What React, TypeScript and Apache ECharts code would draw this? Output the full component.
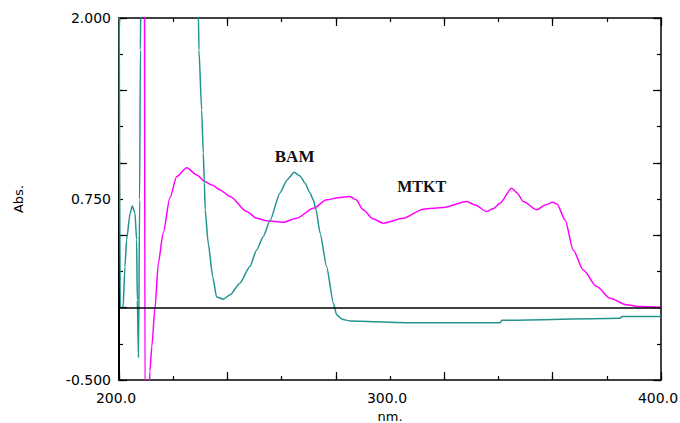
import React, { useEffect, useRef } from "react";
import * as echarts from "echarts";

// BAM spectrum (teal)
const bamX = [200.0, 200.45, 201.5, 202.2, 202.8, 204.1, 204.9, 205.9, 206.5, 206.75, 207.2, 207.6, 207.9, 208.1, 218.8, 229.3, 229.5, 230.5, 231.1, 231.5, 231.8, 232.9, 234.6, 236.0, 238.5, 241.0, 244.6, 248.3, 250.8, 253.2, 255.7, 259.4, 262.0, 264.7, 266.8, 268.6, 270.5, 271.7, 272.7, 274.2, 276.6, 279.1, 280.3, 282.3, 285.2, 306.2, 340.6, 341.3, 384.9, 385.6, 400.0];
const bamY = [2.5, 0.0, 0.0, 0.283, 0.468, 0.652, 0.702, 0.652, 0.468, 0.053, -0.347, 0.744, 1.78, 2.3, 3.0, 2.02, 1.78, 1.365, 1.068, 0.861, 0.675, 0.447, 0.212, 0.074, 0.058, 0.088, 0.169, 0.283, 0.398, 0.49, 0.599, 0.792, 0.882, 0.935, 0.909, 0.861, 0.792, 0.744, 0.675, 0.516, 0.283, 0.032, -0.05, -0.081, -0.092, -0.104, -0.104, -0.088, -0.073, -0.062, -0.062];

// MTKT spectrum (magenta)
const mtktX = [209.4, 209.6, 210.9, 211.4, 212.1, 213.3, 214.5, 216.3, 218.8, 221.3, 225.0, 228.7, 231.7, 234.3, 237.3, 241.0, 247.1, 250.8, 254.5, 260.6, 265.6, 271.7, 276.6, 281.5, 285.2, 287.5, 290.1, 293.7, 297.5, 304.9, 312.3, 319.7, 328.3, 331.4, 335.7, 338.0, 340.6, 344.9, 346.9, 349.2, 354.2, 357.2, 360.1, 361.6, 364.6, 367.6, 371.3, 376.3, 381.2, 387.3, 392.3, 400.0];
const mtktY = [2.5, -0.8, -0.7, -0.44, -0.269, 0.0, 0.307, 0.516, 0.758, 0.905, 0.965, 0.916, 0.87, 0.847, 0.813, 0.767, 0.663, 0.617, 0.599, 0.59, 0.617, 0.686, 0.744, 0.761, 0.767, 0.744, 0.675, 0.613, 0.583, 0.617, 0.68, 0.691, 0.732, 0.709, 0.663, 0.682, 0.721, 0.825, 0.792, 0.732, 0.675, 0.709, 0.727, 0.716, 0.606, 0.398, 0.26, 0.145, 0.065, 0.019, 0.007, 0.0];

const xTickLabels = ["200.0", "300.0", "400.0"];
const yTickLabels = ["-0.500", "0.750", "2.000"];
const annotations = [
  { text: "BAM", x: 264.8, y: 1.044, size: 17 },
  { text: "MTKT", x: 311.7, y: 0.834, size: 16 },
];

const X_MIN = 200, X_MAX = 400, Y_MIN = -0.5, Y_MAX = 2.0;
const FONT = "DejaVu Sans";

export default function App() {
  const ref = useRef<HTMLDivElement>(null);
  useEffect(() => {
    const chart = echarts.init(ref.current!, null, { renderer: "svg" });
    const black = "#000";
    const noLabel = { show: false };
    const noSplit = { show: false };
    const frameLine = { show: true, onZero: false, lineStyle: { color: black, width: 1.5 } };
    const hiddenLine = { show: false, onZero: false };
    const tick = (len: number) => ({ show: true, inside: true, length: len, lineStyle: { color: black, width: 1.2 } });

    const xBase = { type: "value", min: X_MIN, max: X_MAX, splitLine: noSplit };
    const yBase = { type: "value", min: Y_MIN, max: Y_MAX, splitLine: noSplit };

    chart.setOption({
      animation: false,
      backgroundColor: "#fff",
      grid: { left: 119, right: 19, top: 18, bottom: 43, outerBoundsMode: "none", containLabel: false },
      xAxis: [
        {
          ...xBase, position: "bottom", interval: 20,
          axisLine: frameLine, axisTick: tick(4),
          axisLabel: {
            color: black, fontSize: 14, fontFamily: FONT, margin: 11,
            showMinLabel: true, showMaxLabel: true, padding: [0, 6, 0, 0],
            formatter: (v: number) => { const s = v.toFixed(1); return xTickLabels.includes(s) ? s : ""; },
          },
          name: "nm.", nameLocation: "middle", nameGap: 26,
          nameTextStyle: { color: black, fontSize: 13, fontFamily: FONT },
        },
        { ...xBase, position: "bottom", interval: 40, axisLine: hiddenLine, axisTick: tick(8), axisLabel: noLabel },
        { ...xBase, position: "top", interval: 20, axisLine: frameLine, axisTick: tick(4), axisLabel: noLabel },
        { ...xBase, position: "top", interval: 40, axisLine: hiddenLine, axisTick: tick(8), axisLabel: noLabel },
      ],
      yAxis: [
        {
          ...yBase, position: "left", interval: 0.25,
          axisLine: { show: true, onZero: false, lineStyle: { color: black, width: 2 } }, axisTick: tick(4),
          axisLabel: {
            color: black, fontSize: 14, fontFamily: FONT, margin: 8,
            showMinLabel: true, showMaxLabel: true,
            formatter: (v: number) => { const s = v.toFixed(3); return yTickLabels.includes(s) ? s : ""; },
          },
          name: "Abs.", nameLocation: "middle", nameGap: 94, nameRotate: 90,
          nameTextStyle: { color: black, fontSize: 13, fontFamily: FONT },
        },
        { ...yBase, position: "left", interval: 0.5, axisLine: hiddenLine, axisTick: tick(8), axisLabel: noLabel },
        { ...yBase, position: "right", interval: 0.25, axisLine: frameLine, axisTick: tick(4), axisLabel: noLabel },
        { ...yBase, position: "right", interval: 0.5, axisLine: hiddenLine, axisTick: tick(8), axisLabel: noLabel },
      ],
      series: [
        {
          name: "MTKT", type: "line", xAxisIndex: 0, yAxisIndex: 0,
          data: mtktX.map((x, i) => [x, mtktY[i]]),
          showSymbol: false, symbol: "none", clip: true,
          smooth: 0.25, smoothMonotone: "x",
          lineStyle: { color: "#ff00ff", width: 1.5 },
          z: 2,
        },
        {
          name: "BAM", type: "line", xAxisIndex: 0, yAxisIndex: 0,
          data: bamX.map((x, i) => [x, bamY[i]]),
          showSymbol: false, symbol: "none", clip: true,
          smooth: 0.2, smoothMonotone: "x",
          lineStyle: { color: "#24948f", width: 1.5 },
          z: 3,
          markLine: {
            silent: true, symbol: ["none", "none"], label: { show: false },
            lineStyle: { color: black, type: "solid", width: 1.5 },
            data: [{ yAxis: 0 }],
          },
          markPoint: {
            silent: true, symbol: "circle", symbolSize: 2,
            itemStyle: { color: "rgba(255,255,255,0)" },
            data: annotations.map((a) => ({
              name: a.text,
              coord: [a.x, a.y],
              label: {
                show: true, position: "inside", formatter: a.text,
                fontFamily: "Liberation Serif", fontWeight: "bold", fontSize: a.size, color: "#111",
              },
            })),
          },
        },
      ],
    });
    return () => chart.dispose();
  }, []);
  return (
    <div
      ref={ref}
      style={{ position: "fixed", left: 0, top: 0, width: 680, height: 423, background: "#fff" }}
    />
  );
}
